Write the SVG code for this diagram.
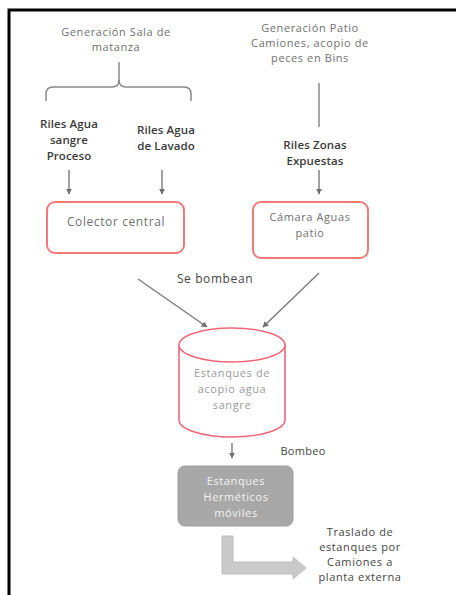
<svg xmlns="http://www.w3.org/2000/svg" width="456" height="595" viewBox="0 0 456 595">
  <defs>
    <marker id="ah" viewBox="0 0 10 10" refX="9" refY="5" markerWidth="6" markerHeight="6" markerUnits="userSpaceOnUse" orient="auto">
      <path d="M0,0 L10,5 L0,10 z" fill="#6e6e6e"/>
    </marker>
    <style>
      .t { font-family: "Open Sans", "Liberation Sans", sans-serif; font-size: 11px; letter-spacing: 0.6px; fill: #707070; text-anchor: middle; }
      .b { font-family: "Open Sans", "Liberation Sans", sans-serif; font-size: 11.5px; font-weight: 600; fill: #3a3a3a; text-anchor: middle; letter-spacing: 0.1px; }
      .d { fill: #454545; }
      .lt { fill: #9a9a9a; }
      .w { fill: #f4f4f4; }
      .box { fill: #ffffff; stroke: #f07a7a; stroke-width: 2; }
      .ln { fill: none; stroke: #8a8a8a; stroke-width: 1.5; }
      .ar { fill: none; stroke: #7a7a7a; stroke-width: 1.4; marker-end: url(#ah); }
    </style>
  </defs>

  <rect width="456" height="595" fill="#ffffff"/>
  <!-- frame -->
  <path d="M9,595 V10 H456" fill="none" stroke="#000" stroke-width="3"/>

  <!-- connectors -->
  <g id="connectors">
    <path class="ln" d="M119,62 V80 Q119,87 112,87 H53 Q46,87 46,94 V101"/>
    <path class="ln" d="M119,80 Q119,87 126,87 H184 Q191,87 191,94 V101"/>
    <path class="ln" d="M319,83 V127"/>
    <path class="ar" d="M69,170 V194"/>
    <path class="ar" d="M162,170 V194"/>
    <path class="ar" d="M319,170 V194"/>
    <path class="ar" d="M138,279 L207,327"/>
    <path class="ar" d="M319,273 L263,327"/>
    <path class="ar" d="M232,443 V458"/>
    <text class="t d" x="215" y="283" style="font-size:12px">Se bombean</text>
    <text class="t d" x="303" y="455" style="letter-spacing:0.3px">Bombeo</text>
  </g>

  <!-- sources -->
  <g id="gen-sala">
    <text class="t" x="116" y="36">Generación Sala de</text>
    <text class="t" x="116" y="51">matanza</text>
  </g>
  <g id="gen-patio">
    <text class="t" x="310" y="32">Generación Patio</text>
    <text class="t" x="310" y="47">Camiones, acopio de</text>
    <text class="t" x="310" y="62">peces en Bins</text>
  </g>
  <g id="riles-sangre">
    <text class="b" x="69" y="128">Riles Agua</text>
    <text class="b" x="69" y="144">sangre</text>
    <text class="b" x="69" y="160">Proceso</text>
  </g>
  <g id="riles-lavado">
    <text class="b" x="166" y="134">Riles Agua</text>
    <text class="b" x="166" y="150">de Lavado</text>
  </g>
  <g id="riles-zonas">
    <text class="b" x="315" y="149">Riles Zonas</text>
    <text class="b" x="315" y="165">Expuestas</text>
  </g>

  <!-- collection -->
  <g id="colector">
    <rect class="box" x="47" y="202" width="137" height="51" rx="8"/>
    <text class="t" x="116" y="226" style="font-size:12px">Colector central</text>
  </g>
  <g id="camara">
    <rect class="box" x="253" y="202" width="115" height="56" rx="8"/>
    <text class="t" x="310" y="221">Cámara Aguas</text>
    <text class="t" x="310" y="237">patio</text>
  </g>

  <!-- storage tank -->
  <g id="estanque-acopio">
    <path d="M179,345 V420 A53,17 0 0 0 285,420 V345" fill="#ffffff" stroke="#f06878" stroke-width="1.6"/>
    <ellipse cx="232" cy="345" rx="53" ry="17" fill="#ffffff" stroke="#f06878" stroke-width="1.6"/>
    <text class="t lt" x="232" y="377">Estanques de</text>
    <text class="t lt" x="232" y="393">acopio agua</text>
    <text class="t lt" x="232" y="409">sangre</text>
  </g>

  <g id="estanques-moviles">
    <rect x="178" y="466" width="115" height="60" rx="7" fill="#a8a8a8" stroke="#9c9c9c" stroke-width="1"/>
    <text class="t w" x="236" y="485">Estanques</text>
    <text class="t w" x="236" y="501">Herméticos</text>
    <text class="t w" x="236" y="517">móviles</text>
  </g>

  <!-- transfer -->
  <g id="traslado">
    <path d="M222,536 H233 V562 H293 V557 L306,568 L293,579 V574 H222 Z" fill="#cacaca" stroke="#bdbdbd" stroke-width="1"/>
    <text class="t d" x="360" y="536">Traslado de</text>
    <text class="t d" x="360" y="551">estanques por</text>
    <text class="t d" x="360" y="566">Camiones a</text>
    <text class="t d" x="360" y="581">planta externa</text>
  </g>
</svg>
